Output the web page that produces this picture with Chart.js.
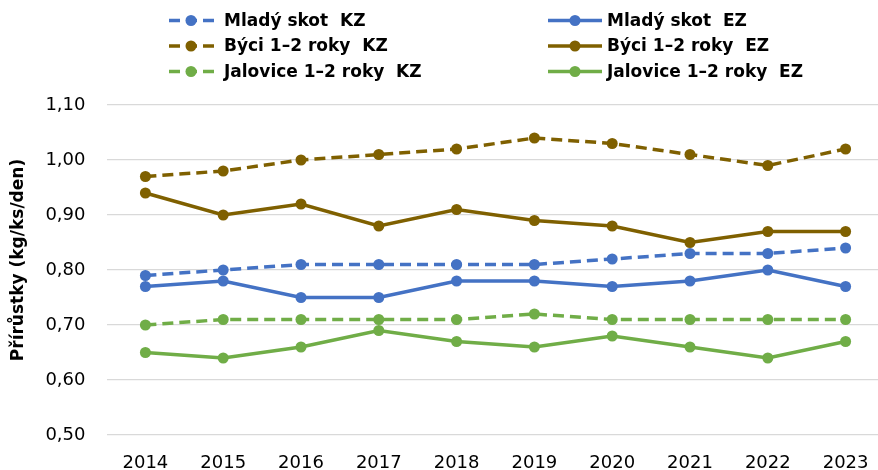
<!DOCTYPE html>
<html>
<head>
<meta charset="utf-8">
<script src="https://cdn.jsdelivr.net/npm/chart.js@4"></script>
<style>
    html, body { margin: 0; padding: 0; background: #fff; overflow: hidden; }
    #wrap { width: 890px; height: 470px; }
</style>
</head>
<body>
<div id="wrap"><canvas id="chart"></canvas></div>
<script>
// Data
const years = ['2014', '2015', '2016', '2017', '2018', '2019', '2020', '2021', '2022', '2023']
const yTicks = [0.5, 0.6, 0.7, 0.8, 0.9, 1.0, 1.1]

const mladyKZ = [0.79, 0.80, 0.81, 0.81, 0.81, 0.81, 0.82, 0.83, 0.83, 0.84]
const mladyEZ = [0.77, 0.78, 0.75, 0.75, 0.78, 0.78, 0.77, 0.78, 0.80, 0.77]
const byciKZ = [0.97, 0.98, 1.00, 1.01, 1.02, 1.04, 1.03, 1.01, 0.99, 1.02]
const byciEZ = [0.94, 0.90, 0.92, 0.88, 0.91, 0.89, 0.88, 0.85, 0.87, 0.87]
const jaloviceKZ = [0.70, 0.71, 0.71, 0.71, 0.71, 0.72, 0.71, 0.71, 0.71, 0.71]
const jaloviceEZ = [0.65, 0.64, 0.66, 0.69, 0.67, 0.66, 0.68, 0.66, 0.64, 0.67]

const yTitle = 'Přírůstky (kg/ks/den)'

const BLUE = '#4472C4'
const BROWN = '#7F6000'
const GREEN = '#70AD47'
const FONT = '"DejaVu Sans", sans-serif'
const DASH = [11, 6]

// Build one line dataset
const series = (label, data, color, dashed) => ({
    label: label,
    data: data,
    borderColor: color,
    backgroundColor: color,
    borderWidth: 3.5,
    borderDash: dashed ? DASH : [],
    pointRadius: 5.5,
    pointHoverRadius: 5.5,
    pointBorderWidth: 0,
    tension: 0,
    fill: false
})

const datasets = [
    series('Mladý skot  KZ', mladyKZ, BLUE, true),
    series('Býci 1–2 roky  KZ', byciKZ, BROWN, true),
    series('Jalovice 1–2 roky  KZ', jaloviceKZ, GREEN, true),
    series('Mladý skot  EZ', mladyEZ, BLUE, false),
    series('Býci 1–2 roky  EZ', byciEZ, BROWN, false),
    series('Jalovice 1–2 roky  EZ', jaloviceEZ, GREEN, false)
]

// Two column legend and rotated axis title
const legendPlugin = {
    id: 'twoColLegend',
    afterDraw(chart) {
        const ctx = chart.ctx
        const cols = [{ x0: 167, x1: 215, tx: 224 }, { x0: 548, x1: 602, tx: 607 }]
        const rows = [20.5, 46, 71.5]
        ctx.save()
        chart.data.datasets.forEach((ds, i) => {
            const col = cols[Math.floor(i / 3)]
            const y = rows[i % 3]
            ctx.strokeStyle = ds.borderColor
            ctx.fillStyle = ds.borderColor
            ctx.lineWidth = ds.borderWidth
            ctx.setLineDash(ds.borderDash)
            ctx.lineDashOffset = ds.borderDash.length ? -2 : 0
            ctx.beginPath()
            ctx.moveTo(col.x0, y)
            ctx.lineTo(col.x1, y)
            ctx.stroke()
            ctx.setLineDash([])
            ctx.beginPath()
            ctx.arc((col.x0 + col.x1) / 2, y, ds.pointRadius, 0, Math.PI * 2)
            ctx.fill()
            ctx.fillStyle = '#000'
            ctx.font = 'bold 17px ' + FONT
            ctx.textAlign = 'left'
            ctx.textBaseline = 'middle'
            ctx.fillText(ds.label, col.tx, y + 1)
        })
        ctx.translate(19, 260)
        ctx.rotate(-Math.PI / 2)
        ctx.textAlign = 'center'
        ctx.textBaseline = 'middle'
        ctx.fillStyle = '#000'
        ctx.font = 'bold 17px ' + FONT
        ctx.fillText(yTitle, 0, 0)
        ctx.restore()
    }
}

new Chart(document.getElementById('chart'), {
    type: 'line',
    data: { labels: years, datasets: datasets },
    options: {
        responsive: true,
        maintainAspectRatio: false,
        animation: false,
        layout: { padding: { top: 105, right: 5.5, left: 0, bottom: 0 } },
        plugins: {
            legend: { display: false },
            tooltip: { enabled: false }
        },
        scales: {
            x: {
                offset: true,
                grid: { display: false },
                border: { display: false },
                ticks: { color: '#000', font: { family: FONT, size: 18 }, padding: 10, maxRotation: 0 },
                afterFit: scale => { scale.height = 35 }
            },
            y: {
                min: 0.5,
                max: 1.1,
                afterBuildTicks: scale => { scale.ticks = yTicks.map(v => ({ value: v })) },
                grid: { color: '#D9D9D9', lineWidth: 1.3, drawTicks: false },
                border: { display: false },
                ticks: {
                    color: '#000',
                    font: { family: FONT, size: 18 },
                    padding: 21,
                    callback: v => v.toFixed(2).replace('.', ',')
                },
                afterFit: scale => { scale.width = 106.5 }
            }
        }
    },
    plugins: [legendPlugin]
})
</script>
</body>
</html>
